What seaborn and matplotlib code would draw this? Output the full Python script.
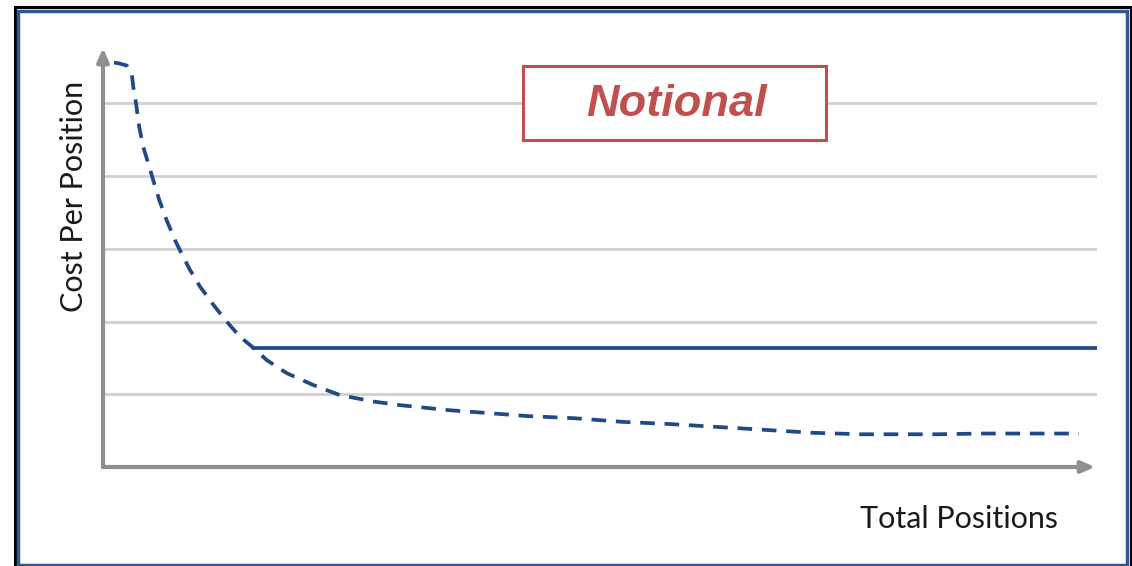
import matplotlib
matplotlib.use("Agg")
import matplotlib.pyplot as plt
from matplotlib.patches import Rectangle
import seaborn as sns
import pandas as pd

# Data (notional)
curve_x = [1.1, 1.54, 2.38, 2.89, 3.05, 3.32, 3.65, 4.05, 4.56, 5.06, 5.66, 6.41,
           7.24, 7.92, 8.75, 9.76, 11.10, 12.44, 13.78, 15.12, 16.47, 18.48,
           21.1, 23.8, 27.2, 29.9, 34.9, 37.93, 42.72, 47.48, 52.31, 57.09,
           61.87, 66.67, 71.43, 76.26, 79.04, 83.80, 88.63, 93.42, 98.19]
curve_y = [5.56, 5.55, 5.52, 5.41, 5.22, 5.00, 4.67, 4.40, 4.17, 3.94, 3.67, 3.39,
           3.12, 2.93, 2.71, 2.48, 2.23, 2.00, 1.79, 1.64, 1.47, 1.29,
           1.13, 0.99, 0.90, 0.85, 0.78, 0.75, 0.70, 0.67, 0.62, 0.59,
           0.55, 0.51, 0.47, 0.45, 0.45, 0.45, 0.46, 0.46, 0.46]
flat_x = [15.1, 100.0]
flat_y = [1.63, 1.63]
grid_levels = [1, 2, 3, 4, 5]
x_label = "Total Positions"
y_label = "Cost Per Position"
note_text = "Notional"

sns.set_style("white")

W, H = 1132, 566
fig = plt.figure(figsize=(W / 100, H / 100), dpi=100)

def fx(px):
    return px / W

def fy(py):
    return (H - py) / H

ax = fig.add_axes([fx(103), fy(467), fx(1097) - fx(103), fy(48) - fy(467)])
ax.set_xlim(0, 100)
ax.set_ylim(0, 5.76)
for s in ax.spines.values():
    s.set_visible(False)
ax.set_xticks([])
ax.set_yticks(grid_levels)
ax.set_yticklabels([])
ax.tick_params(axis="y", length=0)
ax.grid(axis="y", color="#D0D0D0", linewidth=2)
ax.set_axisbelow(True)

navy = "#204A87"
df_c = pd.DataFrame({"x": curve_x, "y": curve_y})
sns.lineplot(data=df_c, x="x", y="y", ax=ax, color=navy, linewidth=2.7,
             linestyle=(0, (3.9, 2.6)), sort=False, estimator=None)
df_f = pd.DataFrame({"x": flat_x, "y": flat_y})
sns.lineplot(data=df_f, x="x", y="y", ax=ax, color=navy, linewidth=2.7,
             sort=False, estimator=None)
for ln in ax.lines:
    ln.set_solid_joinstyle("round")
    ln.set_dash_joinstyle("round")
ax.set_xlabel("")
ax.set_ylabel("")

axis_gray = "#8F8F8F"
ax.annotate("", xy=(0, 5.76), xytext=(0, 0), xycoords="data",
            arrowprops=dict(arrowstyle="-|>,head_length=0.8,head_width=0.35",
                            color=axis_gray, lw=3, shrinkA=0, shrinkB=0),
            annotation_clip=False)
ax.annotate("", xy=(99.8, 0), xytext=(0, 0), xycoords="data",
            arrowprops=dict(arrowstyle="-|>,head_length=0.8,head_width=0.35",
                            color=axis_gray, lw=3, shrinkA=0, shrinkB=0),
            annotation_clip=False)

# frame
fig.add_artist(Rectangle((fx(14.5), fy(600)), fx(1130.5) - fx(14.5), fy(7.5) - fy(600),
                         transform=fig.transFigure, fill=False, edgecolor="black",
                         linewidth=2.2, clip_on=False))
fig.add_artist(Rectangle((fx(18), fy(565)), fx(1126.5) - fx(18), fy(11) - fy(565),
                         transform=fig.transFigure, fill=False, edgecolor="#2E5A94",
                         linewidth=2.5, clip_on=False))

# Notional box
red = "#C0504D"
fig.add_artist(Rectangle((fx(523), fy(140)), fx(826) - fx(523), fy(66) - fy(140),
                         transform=fig.transFigure, fill=True, facecolor="white",
                         edgecolor=red, linewidth=2.2))
fig.text(fx(676.5), fy(116), note_text, color=red, fontsize=32.5,
         fontweight="bold", fontstyle="italic", family="Liberation Sans",
         ha="center", va="baseline")

fig.text(fx(959), fy(528), x_label, fontsize=22, family="Lato", color="#1A1A1A",
         ha="center", va="baseline")
fig.text(fx(83), fy(196), y_label, fontsize=22, family="Lato", color="#1A1A1A",
         ha="center", va="baseline", rotation=90, rotation_mode="anchor")

fig.savefig("out.png", dpi=100)
